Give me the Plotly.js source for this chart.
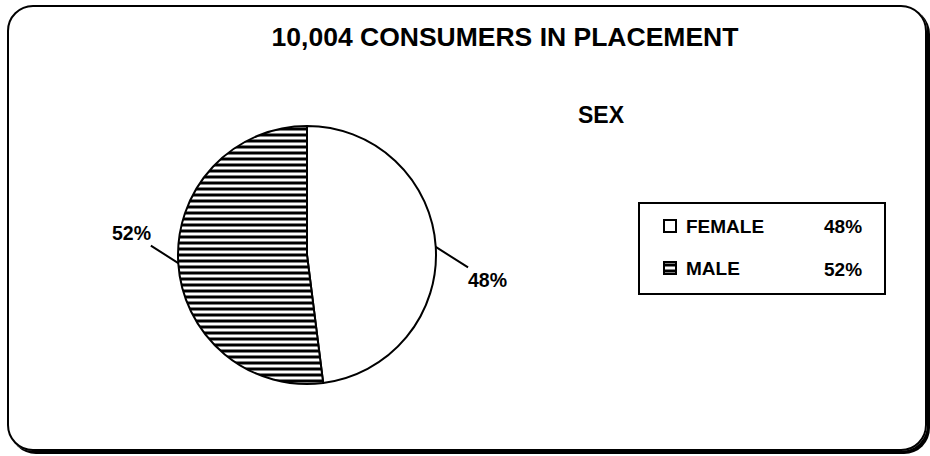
<!DOCTYPE html>
<html>
<head>
<meta charset="utf-8">
<script src="https://cdn.plot.ly/plotly-3.0.1.min.js"></script>
<style>
    body { margin: 0; background: #fff; }
    #marco {
        position: absolute;
        left: 7px;
        top: 5px;
        width: 916px;
        height: 442px;
        border: 2px solid #000;
        border-radius: 26px;
        box-shadow: 3px 3px 0 #000;
    }
    #plot {
        position: absolute;
        left: 0;
        top: 0;
        width: 930px;
        height: 456px;
    }
</style>
</head>
<body>
<div id="marco"></div>
<div id="plot"></div>
<script>
// ============================================
// DATOS
// ============================================

const categorias = ["FEMALE", "MALE"];
const valores = [48, 52];
const patrones = ["", "-"];
const titulo = "10,004 CONSUMERS IN PLACEMENT";
const subtitulo = "SEX";

const W = 930;
const H = 456;
const FUENTE = "'Liberation Sans Narrow', 'Liberation Sans', Arial, sans-serif";

// dominio del pie en pixeles (paper)
const pieX = [178, 436];
const pieY = [126, 384];

function dibujar() {

    const total = valores.reduce((a, b) => a + b, 0);
    const pct = valores.map(v => Math.round(v / total * 100) + "%");

    // ============================================
    // TRAZA
    // ============================================

    const traza = {
        type: "pie",
        labels: categorias.map(c => `<span style="font-size:19px">${c}</span>`),
        values: valores,
        sort: false,
        direction: "clockwise",
        rotation: 0,
        textinfo: "none",
        domain: {
            x: [pieX[0] / W, pieX[1] / W],
            y: [1 - pieY[1] / H, 1 - pieY[0] / H]
        },
        marker: {
            colors: ["#ffffff", "#ffffff"],
            line: { color: "#000", width: 2 },
            pattern: {
                shape: patrones,
                fgcolor: "#000",
                bgcolor: "#fff",
                size: 6,
                solidity: 0.5
            }
        }
    };

    // ============================================
    // ETIQUETAS CON LINEA GUIA
    // ============================================

    const cx = (pieX[0] + pieX[1]) / 2;
    const cy = (pieY[0] + pieY[1]) / 2;
    const r = Math.min(pieX[1] - pieX[0], pieY[1] - pieY[0]) / 2;
    const offsets = [[52, 33], [-47, -30]];

    let acumulado = 0;
    const anotaciones = valores.map((v, i) => {
        const medio = (acumulado + v / 2) / total * 2 * Math.PI;
        acumulado += v;
        const px = cx + r * Math.sin(medio);
        const py = cy - r * Math.cos(medio);
        return {
            x: px / W,
            y: 1 - py / H,
            xref: "paper",
            yref: "paper",
            text: pct[i],
            showarrow: true,
            arrowhead: 0,
            arrowwidth: 2,
            arrowcolor: "#000",
            ax: offsets[i][0],
            ay: offsets[i][1],
            standoff: 0,
            font: { size: 19.5 }
        };
    });

    // porcentajes en la leyenda
    const filasLeyenda = [227, 269];
    valores.forEach((v, i) => {
        anotaciones.push({
            x: 864 / W,
            y: 1 - filasLeyenda[i] / H,
            xref: "paper",
            yref: "paper",
            xanchor: "right",
            yanchor: "middle",
            text: pct[i],
            showarrow: false,
            font: { size: 19 }
        });
    });

    anotaciones.push({
        x: 601 / W,
        y: 1 - 115 / H,
        xref: "paper",
        yref: "paper",
        xanchor: "center",
        yanchor: "middle",
        text: subtitulo,
        showarrow: false,
        font: { size: 23 }
    });

    // ============================================
    // LAYOUT
    // ============================================

    const layout = {
        width: W,
        height: H,
        margin: { l: 0, r: 0, t: 0, b: 0 },
        paper_bgcolor: "rgba(0,0,0,0)",
        plot_bgcolor: "rgba(0,0,0,0)",
        font: { family: FUENTE, color: "#000", weight: "bold" },
        title: {
            text: titulo,
            x: 505 / W,
            xanchor: "center",
            xref: "paper",
            y: 1 - 37 / H,
            yref: "container",
            yanchor: "middle",
            font: { size: 26.5, family: FUENTE, weight: "bold" }
        },
        showlegend: true,
        legend: {
            x: 646 / W,
            y: 1 - 195 / H,
            xanchor: "left",
            yanchor: "top",
            valign: "top",
            bgcolor: "rgba(0,0,0,0)",
            borderwidth: 0,
            traceorder: "normal",
            font: { size: 30, family: FUENTE, weight: "bold" }
        },
        shapes: [{
            type: "rect",
            xref: "paper",
            yref: "paper",
            x0: 639 / W,
            x1: 885 / W,
            y0: 1 - 294 / H,
            y1: 1 - 203 / H,
            line: { color: "#000", width: 2 }
        }],
        annotations: anotaciones
    };

    Plotly.newPlot("plot", [traza], layout, { displayModeBar: false, staticPlot: true })
        .then(gd => {
            // bajar un poco los cuadritos de la leyenda para alinearlos con el texto
            gd.querySelectorAll(".legend .legendpoints").forEach(g => {
                g.setAttribute("transform", "translate(4,5)");
            });
            gd.querySelectorAll(".legend .legendpoints path").forEach(p => {
                p.style.strokeWidth = "2px";
            });
        });
}

try {
    dibujar();
} catch (error) {
    console.error(error);
}
</script>
</body>
</html>
